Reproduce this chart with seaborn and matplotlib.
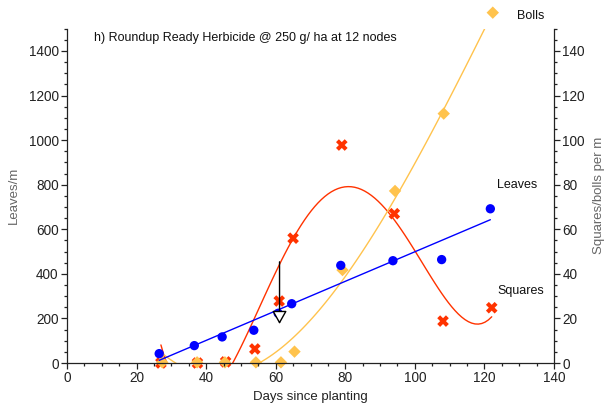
import matplotlib
matplotlib.use("Agg")
import matplotlib.pyplot as plt
from matplotlib.ticker import MultipleLocator
import numpy as np
import pandas as pd
import seaborn as sns

# ---- data ----
leaves_days = [26.5, 36.6, 44.6, 53.7, 60.7, 64.6, 78.7, 93.7, 107.7, 121.7]
leaves_vals = [42, 78, 117, 147, 223, 266, 438, 459, 464, 692]

squares_days = [27.0, 37.5, 45.6, 54.0, 61.0, 65.0, 79.0, 94.1, 108.1, 122.1]
squares_vals = [0, 0, 0.5, 6.3, 27.8, 56, 97.8, 67, 18.8, 24.8]

bolls_days = [27.4, 37.4, 45.4, 54.3, 61.5, 65.4, 79.2, 94.3, 108.3, 122.4]
bolls_vals = [0.3, 0.3, 0.3, 0.3, 0.3, 5.1, 41.7, 77.2, 111.9, 157.2]

title_text = "h) Roundup Ready Herbicide @ 250 g/ ha at 12 nodes"
arrow_day = 61.1
arrow_from, arrow_to = 454, 175

sns.set_style("ticks")
plt.rcParams['font.family'] = ['Liberation Sans', 'DejaVu Sans']
plt.rcParams['font.size'] = 9.5

BLUE = "#0000ff"
RED = "#ff3300"
ORANGE = "#ffc34d"

fig = plt.figure(figsize=(6.08, 4.15), dpi=100)
ax = fig.add_axes([67/608, 1-363/415, (554-67)/608, (363-28.7)/415])
ax2 = ax.twinx()

dfl = pd.DataFrame({"day": leaves_days, "val": leaves_vals})
dfs = pd.DataFrame({"day": squares_days, "val": squares_vals})
dfb = pd.DataFrame({"day": bolls_days, "val": bolls_vals})

# leaves on left axis
sns.regplot(data=dfl, x="day", y="val", ax=ax, ci=None, scatter=False,
            truncate=True, line_kws=dict(color=BLUE, lw=1))
sns.scatterplot(data=dfl, x="day", y="val", ax=ax, color=BLUE, marker="o",
                s=45, edgecolor="none", clip_on=False, zorder=5)

# squares & bolls on right axis
sns.regplot(data=dfs, x="day", y="val", ax=ax2, ci=None, scatter=False, order=4,
            truncate=True, line_kws=dict(color=RED, lw=1))
sns.regplot(data=dfb, x="day", y="val", ax=ax2, ci=None, scatter=False, order=3,
            truncate=True, line_kws=dict(color=ORANGE, lw=1))
sns.scatterplot(data=dfs, x="day", y="val", ax=ax2, color=RED, marker="X",
                s=70, edgecolor="none", clip_on=False, zorder=5)
sns.scatterplot(data=dfb, x="day", y="val", ax=ax2, color=ORANGE, marker="D",
                s=40, edgecolor="none", clip_on=False, zorder=6)

ax.set_xlim(0, 140)
ax.set_ylim(0, 1500)
ax2.set_ylim(0, 150)

ax.xaxis.set_major_locator(MultipleLocator(20))
ax.xaxis.set_minor_locator(MultipleLocator(5))
ax.yaxis.set_major_locator(MultipleLocator(200))
ax.yaxis.set_minor_locator(MultipleLocator(50))
ax2.yaxis.set_major_locator(MultipleLocator(20))
ax2.yaxis.set_minor_locator(MultipleLocator(5))

for a in (ax, ax2):
    a.tick_params(which="major", length=4, width=0.9, color="#222222",
                  labelsize=9.8, labelcolor="#222222", pad=2)
    a.tick_params(which="minor", length=2, width=0.9, color="#222222")
    for s in a.spines.values():
        s.set_color("#222222")
        s.set_linewidth(0.9)

ax.spines["top"].set_visible(False)
ax.spines["right"].set_visible(False)
ax2.spines["top"].set_visible(False)
ax2.spines["left"].set_visible(False)
ax2.spines["bottom"].set_visible(False)

ax.set_xlabel("Days since planting", fontsize=9.5, color="#222222", labelpad=4)
ax.set_ylabel("Leaves/m", fontsize=9.5, color="#666666", labelpad=6)
ax2.set_ylabel("Squares/bolls per m", fontsize=9.5, color="#666666", labelpad=6)

ax.text(7.8, 1460, title_text, fontsize=9.0, color="#111111", va="center", ha="left")
ax2.text(129.4, 155.7, "Bolls", fontsize=9.0, color="#111111", va="center",
         ha="left", clip_on=False)
ax2.text(123.6, 80.0, "Leaves", fontsize=9.0, color="#111111", va="center", ha="left")
ax2.text(123.6, 32.3, "Squares", fontsize=9.0, color="#111111", va="center", ha="left")

ax.annotate("", xy=(arrow_day, arrow_to), xytext=(arrow_day, arrow_from),
            arrowprops=dict(arrowstyle="-|>,head_length=0.8,head_width=0.45",
                            mutation_scale=10, fc="white", ec="black", lw=1,
                            shrinkA=0, shrinkB=0), zorder=7)

ax.set_zorder(ax2.get_zorder() + 1)
ax.patch.set_visible(False)

fig.savefig("out.png", dpi=100)
